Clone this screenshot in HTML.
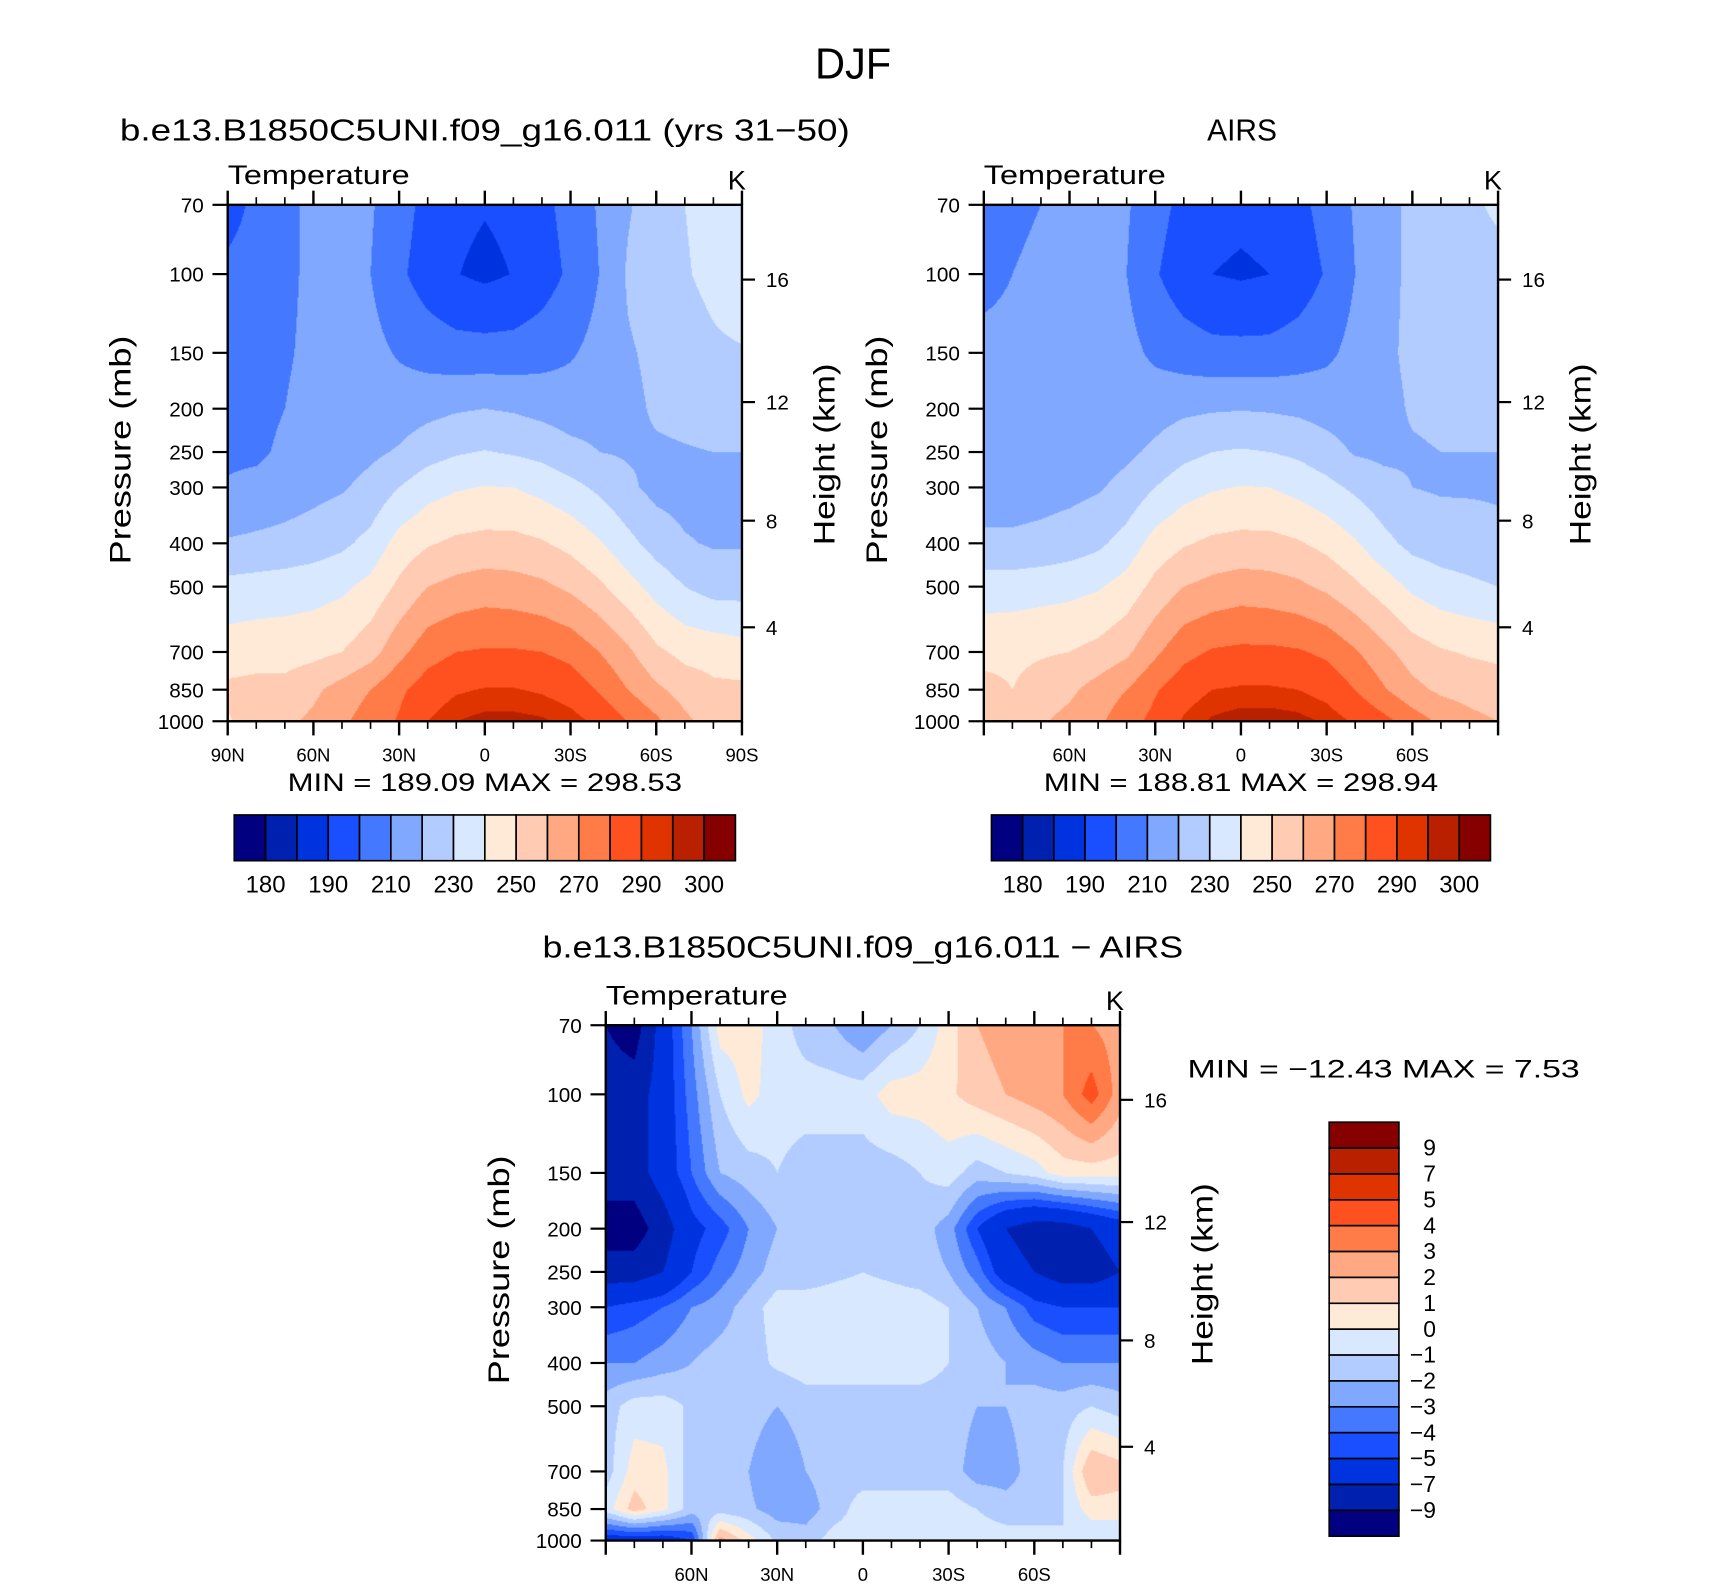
<!DOCTYPE html>
<html><head><meta charset="utf-8">
<style>
html,body{margin:0;padding:0;background:#fff;overflow:hidden;width:1710px;height:1590px}
#page{position:absolute;left:0;top:0;width:1560px;height:1451px;transform:scale(1.0895,1.0895);transform-origin:0 0;font-family:"Liberation Sans",sans-serif}
canvas{position:absolute}
svg{position:absolute;left:0;top:0}
text{font-family:"Liberation Sans",sans-serif;fill:#000}
</style></head>
<body>
<div id="page">
<canvas id="c1" width="472" height="474" style="left:209px;top:188px"></canvas>
<canvas id="c2" width="472" height="474" style="left:903px;top:188px"></canvas>
<canvas id="c3" width="472" height="473" style="left:556px;top:941px"></canvas>
<svg id="s" width="1560" height="1451" viewBox="0 0 1560 1451"></svg>
</div>
<script>
// ---- data ----
const pressures = [70,100,150,200,250,300,400,500,700,850,1000];
const lats = [90,80,70,60,50,40,30,20,10,0,-10,-20,-30,-40,-50,-60,-70,-80,-90];
const modelT = [
[195,203,208,212,214,211,204,197,192,190.6,192,197,204,211,219,225,230,234,235],
[203,205,208,212,214,210,202,195,190.3,188,190.3,195,202,210,221,226,229,233,238],
[206,207,209,212,214,213,209,206,204,204,204,206,209,213,219,222,225,228,229],
[207,207,210,213,215,215,215,217,219,220,219,217,215,216,218,221,222,223,223],
[208,208,212,214,216,218,221,226,229,230.5,229,227,223,220,219,219,219.5,220,220],
[211,213,215,217,219,223,230,236,239,240.5,240,237,233,228,222,217,216,216,216],
[221,222,223,225,228,233,244,249,252,253,253,251,247,241,233,226,221,219,219],
[233,234,235,236,238,243,252,260,263,265,264,262,258,252,244,236,230,226,226],
[245,246,246,247,250,256,267,276,280,281,281,280,277,270,262,252,247,246,244],
[252,253,253,258,264,270,278,285,289,290.5,290.5,289,286,279,270,262,256,252,252],
[249,255,258,262,268,275,281,290,295,297,297,296,293,288,280,272,262,256,254]];
const airsT = [
[207,208,210,212,214,211,204,197,193,192,193,197,204,211,217,222,225,228,232],
[208,210,212,213,214,210,201,194,190,188.8,190,194,201,210,217,222,224,225,226],
[212,212,212,213,214,213,208,205,203,203,203,205,208,213,218,222,224,225,225],
[213,213,213,214,215,215,216,218,219,219.5,219,218,216,215,217,221,222,222,222],
[214,214,214,215,216,218,222,227,230,231,230,228,224,219,218,219,220,220,220],
[215,215,216,217,219,223,230,236,239,240.5,240,237,233,228,223,220,219,219,219],
[222,222,223,225,228,234,244,249,252,253,253,251,247,241,233,227,225,224,222],
[235,235,236,237,239,244,253,260,263,265,264,262,258,252,245,238,234,232,230],
[247,248,249,250,253,258,268,277,281,282,282,281,278,271,263,255,251,249,248],
[253,250,254,258,264,270,279,286,290,291,291,290,287,280,271,263,258,256,254],
[255,257,259,263,268,276,283,291,296,298,298,297,294,289,283,275,268,263,260]];
const diffT = [
[-9,-10,-6,-3,0.5,0.5,-0.5,-1.5,-2,-3,-2,-1,0.5,2,2.5,3,3,3,2.5],
[-8,-8,-6,-3.5,-1,0.3,-0.5,-0.5,-0.5,-0.5,0.5,0.5,0.8,1.5,2,2.5,3,4.5,2.5],
[-8,-8,-6,-4,-2,-1.5,-1,-1.5,-1.5,-1.5,-1.5,-1,-0.5,-1.5,-1,-0.5,0.5,0.5,0.5],
[-10,-10,-8,-5.5,-4.5,-3,-2,-1.5,-1.5,-1.5,-1.5,-1.5,-2.5,-5,-7,-8,-8,-7,-6],
[-8,-8,-7,-5,-3.5,-2.5,-1.5,-1.5,-1.2,-1,-1.2,-1.5,-2,-3.5,-6,-7,-8,-8,-7],
[-5,-4.5,-4,-3,-2.5,-1.5,-0.5,-0.5,-0.5,-0.5,-0.5,-0.5,-1,-2,-3,-4.5,-5,-5,-5],
[-3,-3,-2.5,-2,-1.5,-1.5,-0.8,-0.5,-0.5,-0.5,-0.5,-0.5,-1,-1.5,-2,-2.5,-3,-3,-3],
[-1.5,-0.5,-0.5,-1.2,-1.5,-1.5,-2,-1.5,-1.5,-1.5,-1.5,-1.5,-1.5,-2,-2,-1.5,-1.5,-1,-1.5],
[-1.5,0.5,0.3,-1.5,-1.8,-2,-3,-2,-1.5,-1.5,-1.5,-1.5,-1.5,-2.5,-2.5,-1.5,-1,2,1.5],
[-0.5,1.5,0.3,-1.5,-1.5,-1.8,-2.5,-2.5,-1.5,-0.5,-0.5,-0.5,-0.5,-1,-1.5,-1.5,-1,0.5,0.5],
[-6,-6,-6,-5,2.5,0.5,-1.2,-1.5,-0.5,-0.5,-0.5,-0.5,-0.5,-0.5,-0.5,-0.5,-1,-1,-1]];
const tempLevels = [180,185,190,200,210,220,230,240,250,260,270,280,290,295,300];
const tempLabels = [180,190,210,230,250,270,290,300];
const diffLevels = [-9,-7,-5,-4,-3,-2,-1,0,1,2,3,4,5,7,9];
const diffLabels = ["9","7","5","4","3","2","1","0","\u22121","\u22122","\u22123","\u22124","\u22125","\u22127","\u22129"];
const colors = ["#000080","#0020b0","#0033e0","#1a4fff","#4478ff","#80a8ff","#b3ccff","#d8e9ff","#ffead8","#ffcbb3","#ffa882","#ff7b48","#ff5020","#e03400","#b82000","#860000"];
const pTicks = [70,100,150,200,250,300,400,500,700,850,1000];
const hTicks = [4,8,12,16];
const latMajor = [90,60,30,0,-30,-60,-90];
const latNames1 = ["90N","60N","30N","0","30S","60S","90S"];
const latNames2 = ["","60N","30N","0","30S","60S",""];

// ---- helpers ----
const NS="http://www.w3.org/2000/svg";
const svg=document.getElementById('s');
function el(tag,attrs,txt){const e=document.createElementNS(NS,tag);for(const k in attrs)e.setAttribute(k,attrs[k]);if(txt!==undefined)e.textContent=txt;svg.appendChild(e);return e;}
const W=472,H=474;
const lnR=Math.log(1000/70);
function yOfP(p,top,h){return top+Math.log(p/70)/lnR*h;}
function xOfLat(lat,left){return left+(90-lat)/180*W;}
function pOfZ(z){z*=1000;if(z<=11000)return 1013.25*Math.pow(1-2.25577e-5*z,5.25588);return 226.32*Math.exp(-(z-11000)/6341.6);}
function colorIdx(v,lev){let i=0;while(i<lev.length&&v>=lev[i])i++;return i;}
function sample(data,fx,lp){
  let j=Math.min(Math.max(Math.floor(fx),0),lats.length-2);let tx=fx-j;
  let i=0;while(i<pressures.length-2&&Math.log(pressures[i+1])<lp)i++;
  const a=Math.log(pressures[i]),b=Math.log(pressures[i+1]);let ty=(lp-a)/(b-a);
  const v00=data[i][j],v01=data[i][j+1],v10=data[i+1][j],v11=data[i+1][j+1];
  return (v00*(1-tx)+v01*tx)*(1-ty)+(v10*(1-tx)+v11*tx)*ty;
}
function drawField(id,data,lev,h){
  const c=document.getElementById(id),ctx=c.getContext('2d');
  const rgb=colors.map(s=>[parseInt(s.substr(1,2),16),parseInt(s.substr(3,2),16),parseInt(s.substr(5,2),16)]);
  const img=ctx.createImageData(W,h);
  for(let y=0;y<h;y++){const lp=Math.log(70)+(y+0.5)/h*lnR;
    for(let x=0;x<W;x++){const fx=(x+0.5)/W*(lats.length-1);
      const v=sample(data,fx,lp);const k=colorIdx(v,lev);const q=(y*W+x)*4;
      img.data[q]=rgb[k][0];img.data[q+1]=rgb[k][1];img.data[q+2]=rgb[k][2];img.data[q+3]=255;}}
  ctx.putImageData(img,0,0);
}
function wide(len){return {textLength:len,lengthAdjust:'spacingAndGlyphs'};}
function axes(name,left,top,h,names){
  el('rect',{x:left,y:top,width:W,height:h,fill:'none',stroke:'#000','stroke-width':2.2,});
  for(let lat=90;lat>=-90;lat-=10){const x=xOfLat(lat,left);const maj=latMajor.includes(lat);const L=maj?13:7;
    el('line',{x1:x,y1:top+h,x2:x,y2:top+h+L,stroke:'#000','stroke-width':maj?2.2:1.5});
    el('line',{x1:x,y1:top,x2:x,y2:top-L,stroke:'#000','stroke-width':maj?2.2:1.5});}
  latMajor.forEach((lat,k)=>{if(names[k])el('text',{x:xOfLat(lat,left),y:top+h+37,'font-size':17,'text-anchor':'middle',},names[k]);});
  pTicks.forEach(p=>{const y=yOfP(p,top,h);el('line',{x1:left-14,y1:y,x2:left,y2:y,stroke:'#000','stroke-width':2});
    el('text',{x:left-22,y:y+7,'font-size':19,'text-anchor':'end',},String(p));});
  hTicks.forEach(z=>{const y=yOfP(pOfZ(z),top,h);el('line',{x1:left+W,y1:y,x2:left+W+12,y2:y,stroke:'#000','stroke-width':2});
    el('text',{x:left+W+22,y:y+7,'font-size':19,},String(z));});
  el('text',Object.assign({x:left,y:top-19,'font-size':25,},wide(167)),'Temperature');
  el('text',{x:left+W-13,y:top-14,'font-size':25,},'K');
  const cy=top+h*0.5;
  el('text',Object.assign({x:0,y:0,'font-size':27,'text-anchor':'middle',transform:`translate(${left-89},${cy-12}) rotate(-90)`,},wide(210)),'Pressure  (mb)');
  el('text',Object.assign({x:0,y:0,'font-size':27,'text-anchor':'middle',transform:`translate(${left+W+85},${cy-8}) rotate(-90)`,},wide(167)),'Height  (km)');
}
function hbar(name,x0,x1,y0,y1){const bw=(x1-x0)/16;
  colors.forEach((c,k)=>el('rect',{x:x0+k*bw,y:y0,width:bw,height:y1-y0,fill:c,stroke:'#000','stroke-width':1.5,}));
  tempLabels.forEach(v=>{const k=tempLevels.indexOf(v);el('text',{x:x0+(k+1)*bw,y:y1+29,'font-size':22,'text-anchor':'middle',},String(v));});
}
// ---- titles ----
el('text',Object.assign({x:783,y:72,'font-size':40,'text-anchor':'middle',},wide(70)),'DJF');
el('text',Object.assign({x:445,y:129,'font-size':28,'text-anchor':'middle',},wide(670)),'b.e13.B1850C5UNI.f09_g16.011 (yrs 31\u221250)');
el('text',Object.assign({x:1140,y:129,'font-size':28,'text-anchor':'middle',},wide(64)),'AIRS');
el('text',Object.assign({x:792,y:879,'font-size':28,'text-anchor':'middle',},wide(588)),'b.e13.B1850C5UNI.f09_g16.011 \u2212 AIRS');
// ---- plots ----
drawField('c1',modelT,tempLevels,H);
drawField('c2',airsT,tempLevels,H);
drawField('c3',diffT,diffLevels,473);
axes('model',209,188,H,latNames1);
axes('airs',903,188,H,latNames2);
axes('diff',556,941,473,latNames2);
const mm={'font-size':23,'text-anchor':'middle','xml:space':'preserve'};
el('text',Object.assign({x:445,y:726,},mm,wide(362)),'MIN  =  189.09   MAX  =  298.53');
el('text',Object.assign({x:1139,y:726,},mm,wide(362)),'MIN  =  188.81   MAX  =  298.94');
el('text',Object.assign({x:1090,y:989,'font-size':23,'xml:space':'preserve',},wide(360)),'MIN  =  \u221212.43   MAX  =     7.53');
hbar('model-colorbar',215,675,748,790);
hbar('airs-colorbar',910,1368,748,790);
(function(){const x0=1220,x1=1284,y0=1030,y1=1410,bh=(y1-y0)/16;
  for(let k=0;k<16;k++){el('rect',{x:x0,y:y0+k*bh,width:x1-x0,height:bh,fill:colors[15-k],stroke:'#000','stroke-width':1.5,});}
  diffLabels.forEach((t,k)=>el('text',{x:1318,y:y0+(k+1)*bh+7,'font-size':21,'text-anchor':'end',},t));
})();
</script>
</body></html>
